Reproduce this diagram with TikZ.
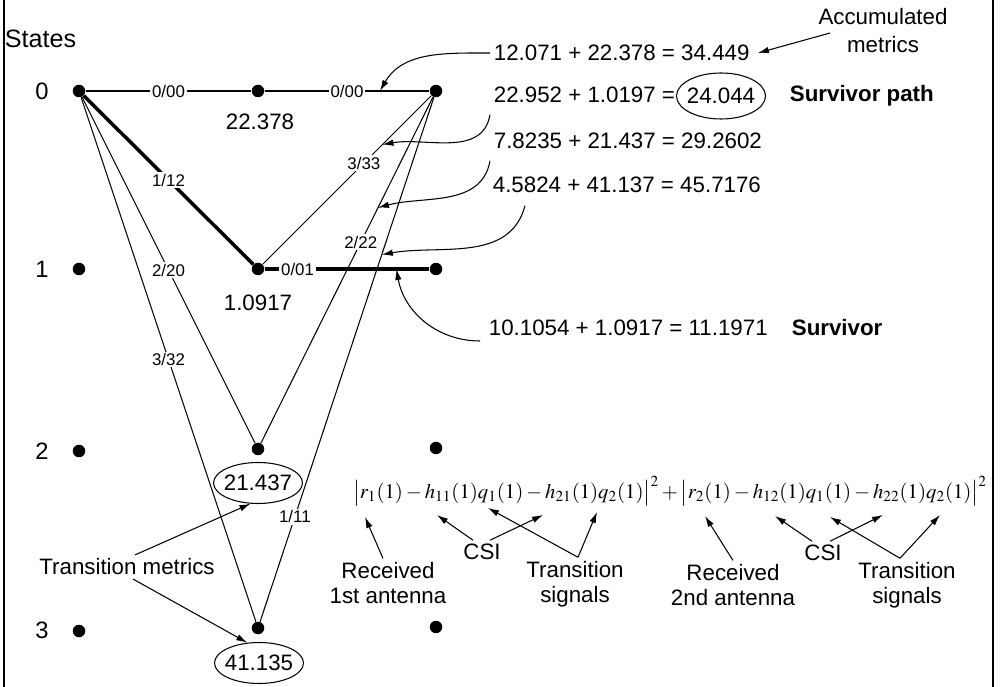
\documentclass[tikz,border=0pt]{standalone}
\usepackage{mathptmx}
\usepackage[no-math]{fontspec}
\setmainfont{Liberation Sans}
\usetikzlibrary{arrows.meta, positioning, shapes.geometric}
\newcommand{\bigtxt}{\fontsize{12.7}{14.2}\selectfont}
\newcommand{\smalltxt}{\fontsize{9.6}{11}\selectfont}

\begin{document}
\begin{tikzpicture}[x=0.2mm, y=-0.2mm,
    dot/.style={circle, fill, inner sep=0pt, minimum size=2.5mm},
    lbl/.style={fill=white, inner sep=1pt, font=\smalltxt},
    txt/.style={inner sep=2pt, font=\bigtxt, align=center},
    metric/.style={ellipse, draw, line width=0.6pt, inner sep=-4pt,
      minimum width=17.8mm, minimum height=8.2mm, font=\bigtxt},
    trans/.style={line width=0.6pt},
    survivor/.style={line width=2pt},
    arrow/.style={line width=0.6pt, -{Latex[length=2.2mm, width=1.3mm]}}
]
\useasboundingbox (0,0) rectangle (1000,687);
\draw[line width=1pt] (4,0) -- (4,687);
\draw[line width=1pt] (993,0) -- (993,687);

% states and trellis
\node[txt, anchor=west, font=\fontsize{14.3}{16}\selectfont] (states) at (1,39) {States};
\node[txt, font=\fontsize{13.5}{15}\selectfont] (s0) at (42,91) {0};
\node[txt, font=\fontsize{13.5}{15}\selectfont] (s1) at (42,269) {1};
\node[txt, font=\fontsize{13.5}{15}\selectfont] (s2) at (42,451) {2};
\node[txt, font=\fontsize{13.5}{15}\selectfont] (s3) at (42,630) {3};

\node[dot] (a0) at (79,91) {};  \node[dot] (b0) at (258,91) {};  \node[dot] (c0) at (436,91) {};
\node[dot] (a1) at (79,269) {}; \node[dot] (b1) at (258,269) {}; \node[dot] (c1) at (436,269) {};
\node[dot] (a2) at (79,451) {}; \node[dot] (b2) at (258,449) {}; \node[dot] (c2) at (436,448) {};
\node[dot] (a3) at (79,631) {}; \node[dot] (b3) at (258,628) {}; \node[dot] (c3) at (436,627) {};

\draw[trans] (a0) -- node[lbl] {0/00} (b0);
\draw[trans] (b0) -- node[lbl] {0/00} coordinate[pos=0.7] (t00) (c0);
\draw[survivor] (a0) -- node[lbl] {1/12} (b1);
\draw[trans] (a0) -- node[lbl] {2/20} (b2);
\draw[trans] (a0) -- node[lbl] {3/32} (b3);
\draw[trans] (b1) -- node[lbl, pos=0.6] {3/33} coordinate[pos=0.71] (t33) (c0);
\draw[survivor] (b1) -- node[lbl, pos=0.2] {0/01} coordinate[pos=0.8] (t01) (c1);
\draw[trans] (b2) -- node[lbl, pos=0.58] {2/22} coordinate[pos=0.68] (t22) (c0);
\draw[trans] (b3) -- node[lbl, pos=0.2] {1/11} coordinate[pos=0.7] (t11) (c0);

\node[txt] (v0) at (260,122) {22.378};
\node[txt] (v1) at (258,303) {1.0917};
\node[metric] (m2) at (258,483) {21.437};
\node[metric] (m3) at (259,663) {41.135};

% accumulated metrics
\node[txt, anchor=west] (acc1) at (490,53) {12.071 + 22.378 = 34.449};
\node[txt, anchor=west] (acc2) at (490,95) {22.952 + 1.0197 =};
\node[metric, minimum height=9.2mm] (best) at (721,96) {24.044};
\node[txt, anchor=west] (acc3) at (490,141) {7.8235 + 21.437 = 29.2602};
\node[txt, anchor=west] (acc4) at (489,185) {4.5824 + 41.137 = 45.7176};
\node[txt, anchor=west] (acc5) at (485,328) {10.1054 + 1.0917 = 11.1971};
\node[txt, anchor=west, font=\bigtxt\bfseries, right=4mm of best] (survpath) {Survivor path};
\node[txt, anchor=west, font=\bigtxt\bfseries] (surv) at (788,328) {Survivor};
\node[txt, font=\fontsize{12.7}{15.9}\selectfont] (accum) at (883,31) {Accumulated\\metrics};

\draw[arrow] ([xshift=3.1mm, yshift=-0.4mm]accum.west) -- ([xshift=0.9mm]acc1.east);
\draw[arrow] (acc1.west) to[out=180, in=60] (t00);
\draw[arrow] ([yshift=-1.6mm]acc2.south west) to[out=-100, in=10] (t33);
\draw[arrow] ([yshift=-1.6mm]acc3.south west) to[out=-100, in=15] (t22);
\draw[arrow] ([xshift=7.2mm, yshift=-1.8mm]acc4.south west) to[out=-105, in=10] (t11);
\draw[arrow] ([xshift=-1mm, yshift=-2.6mm]acc5.west) to[out=180, in=-80] (t01);

% transition metrics
\node[txt] (tm) at (127,567) {Transition metrics};
\draw[arrow] ([xshift=1.6mm]tm.north) -- (m2.250);
\draw[arrow] ([xshift=1.2mm]tm.south) -- (m3.120);

% branch metric of the first transition
\node[font=\fontsize{11.8}{14}\selectfont] (eq) at (670,491)
  {$\bigl|r_1(1)-h_{11}(1)q_1(1)-h_{21}(1)q_2(1)\bigr|^2+\bigl|r_2(1)-h_{12}(1)q_1(1)-h_{22}(1)q_2(1)\bigr|^2$};

\coordinate (r1) at (365,517);
\coordinate (h11) at (437,515);
\coordinate (h21) at (543,515);
\coordinate (q11) at (488,508);
\coordinate (q21) at (597,512);
\coordinate (r2) at (705,516);
\coordinate (h12) at (775,516);
\coordinate (h22) at (883,515);
\coordinate (q12) at (830,517);
\coordinate (q22) at (940,515);

\node[txt] (rec1) at (388,583) {Received\\1st antenna};
\node[txt] (csi1) at (482,552) {CSI};
\node[txt] (sig1) at (575,584) {Transition\\signals};
\node[txt] (rec2) at (733,585) {Received\\2nd antenna};
\node[txt] (csi2) at (823,553) {CSI};
\node[txt] (sig2) at (907,585) {Transition\\signals};

\draw[arrow] ([xshift=-1mm]rec1.north) -- (r1);
\draw[arrow] ([xshift=-1.8mm]csi1.north) -- (h11);
\draw[arrow] ([xshift=1.6mm]csi1.north) -- (h21);
\draw[arrow] ([xshift=0.6mm]sig1.north) -- (q11);
\draw[arrow] ([xshift=0.6mm]sig1.north) -- (q21);
\draw[arrow] (rec2.north) -- (r2);
\draw[arrow] ([xshift=-2.2mm]csi2.north) -- (h12);
\draw[arrow] ([xshift=1.4mm]csi2.north) -- (h22);
\draw[arrow] ([xshift=-1.4mm]sig2.north) -- (q12);
\draw[arrow] ([xshift=-1.4mm]sig2.north) -- (q22);
\end{tikzpicture}
\end{document}
